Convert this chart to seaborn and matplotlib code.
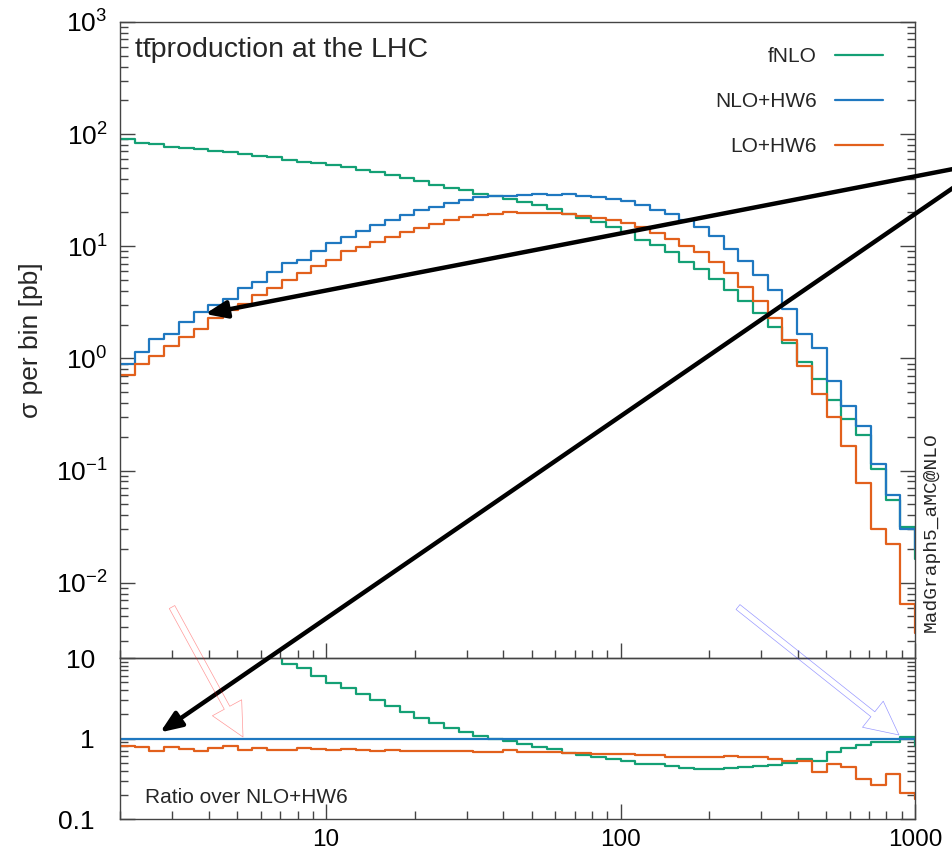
import numpy as np
import pandas as pd
import matplotlib
matplotlib.use("Agg")
import matplotlib.pyplot as plt
import seaborn as sns
from matplotlib.ticker import LogLocator, NullFormatter, FixedLocator, FixedFormatter

# binning: 20 bins per decade from ~2 up to 1000, plus the overflow bin past 1000
bin_edges = 10 ** (np.arange(6, 62) / 20)

# sigma per bin [pb]
fnlo = [89.7, 82.7, 81.4, 76.1, 75.0, 73.5, 70.5, 69.6, 66.8, 63.6,
        61.9, 59.0, 56.6, 55.0, 52.5, 50.4, 48.3, 46.4, 43.6, 40.8,
        38.0, 35.5, 33.2, 31.6, 29.5, 27.9, 26.4, 25.0, 23.4, 21.5,
        19.5, 17.9, 16.3, 14.9, 13.4, 11.3, 10.3, 8.81, 7.31, 6.25,
        5.12, 4.08, 3.28, 2.56, 1.92, 1.38, 0.921, 0.653, 0.424, 0.286,
        0.206, 0.104, 0.0548, 0.0312, 0.0163]
nlo_hw6 = [0.883, 1.13, 1.48, 1.65, 2.10, 2.57, 2.99, 3.39, 4.23, 4.81,
           5.91, 7.02, 7.57, 9.12, 10.6, 12.0, 13.6, 15.6, 17.1, 19.0,
           21.0, 22.5, 24.3, 26.0, 27.5, 28.3, 28.3, 28.9, 29.5, 28.9,
           29.5, 28.3, 27.5, 26.4, 25.2, 23.5, 21.2, 19.5, 17.0, 14.9,
           12.4, 9.44, 7.46, 5.56, 4.08, 2.76, 1.65, 1.24, 0.631, 0.374,
           0.248, 0.114, 0.0611, 0.0302, 0.0200]
lo_hw6 = [0.705, 0.883, 1.05, 1.30, 1.56, 1.82, 2.27, 2.70, 3.04, 3.68,
          4.23, 5.01, 5.83, 6.69, 7.57, 8.98, 9.90, 11.0, 12.2, 13.3,
          14.5, 15.9, 17.1, 18.2, 18.9, 19.4, 20.1, 19.8, 19.8, 19.8,
          19.4, 18.7, 17.9, 17.0, 16.1, 14.8, 13.1, 11.6, 10.1, 8.81,
          7.22, 5.76, 4.37, 3.28, 2.28, 1.46, 0.859, 0.480, 0.301, 0.165,
          0.0771, 0.0302, 0.0221, 0.00644, 0.00359]

series_names = ['fNLO', 'NLO+HW6', 'LO+HW6']
palette = {'fNLO': '#14a075', 'NLO+HW6': '#1f78c0', 'LO+HW6': '#e2601c'}

sns.set_theme(style='ticks')
plt.rcParams['font.family'] = ['Liberation Sans', 'DejaVu Sans']
plt.rcParams['mathtext.fontset'] = 'custom'
plt.rcParams['mathtext.rm'] = 'Liberation Sans'
plt.rcParams['mathtext.default'] = 'regular'

# long table, last value repeated so steps-post closes the final bin
ref = np.array(nlo_hw6 + [nlo_hw6[-1]])
rows = []
for name, vals in zip(series_names, [fnlo, nlo_hw6, lo_hw6]):
    ext = np.array(vals + [vals[-1]])
    rows.append(pd.DataFrame({'x': bin_edges, 'sigma': ext, 'ratio': ext / ref, 'sample': name}))
df = pd.concat(rows, ignore_index=True)

fig = plt.figure(figsize=(9.53, 8.58), dpi=100)
ax_top = fig.add_axes([0.1259, 0.2331, 0.8342, 0.7413])
ax_rat = fig.add_axes([0.1259, 0.04545, 0.8342, 0.18765])
for ax in (ax_top, ax_rat):
    ax.set_facecolor('none')

sns.lineplot(data=df, x='x', y='sigma', hue='sample', hue_order=series_names, palette=palette,
             drawstyle='steps-post', lw=1.6, estimator=None, sort=False, ax=ax_top)
sns.lineplot(data=df, x='x', y='ratio', hue='sample', hue_order=series_names, palette=palette,
             drawstyle='steps-post', lw=1.6, estimator=None, sort=False, legend=False, ax=ax_rat)

xmin, xmax = bin_edges[0], 1000
for ax in (ax_top, ax_rat):
    ax.set_xscale('log')
    ax.set_yscale('log')
    ax.set_xlim(xmin, xmax)
    ax.set_xlabel('')
    ax.set_ylabel('')
    for sp in ax.spines.values():
        sp.set_visible(True)
        sp.set_color('#444444')
        sp.set_linewidth(1.0)
    ax.xaxis.set_major_locator(FixedLocator([10, 100, 1000]))
    ax.xaxis.set_minor_locator(LogLocator(base=10, subs=np.arange(2, 10), numticks=20))
    ax.xaxis.set_minor_formatter(NullFormatter())
    ax.tick_params(axis='both', which='both', direction='in', color='#444444', width=1.0,
                   labelsize=19, labelcolor='black')
    ax.tick_params(axis='both', which='major', length=11)
    ax.tick_params(axis='both', which='minor', length=6)
    ax.tick_params(axis='y', which='both', left=True, right=True)
    ax.tick_params(axis='x', which='both', bottom=True, top=False)

# upper panel
ax_top.set_ylim(2.13e-3, 1e3)
ax_top.yaxis.set_major_locator(LogLocator(base=10, numticks=12))
ax_top.yaxis.set_minor_locator(LogLocator(base=10, subs=np.arange(2, 10), numticks=12))
ax_top.yaxis.set_minor_formatter(NullFormatter())
ax_top.tick_params(axis='x', labelbottom=False)
ax_top.tick_params(axis='y', pad=9)
ax_top.set_ylabel('σ per bin [pb]', fontsize=19)
ax_top.yaxis.set_label_coords(-0.097, 0.5)

ax_top.text(0.019, 0.945, 'tt\u0304production at the LHC', transform=ax_top.transAxes,
            fontsize=20.5, ha='left', va='baseline')

leg = ax_top.get_legend()
handles = leg.legend_handles
ax_top.legend(handles, series_names, loc='upper right', bbox_to_anchor=(0.96, 0.96),
              frameon=False, markerfirst=False, fontsize=15, handlelength=2.3,
              handletextpad=0.9, labelspacing=1.25, borderpad=0, borderaxespad=0)

# ratio panel
ax_rat.set_ylim(0.1, 10)
ax_rat.yaxis.set_major_locator(FixedLocator([0.1, 1, 10]))
ax_rat.yaxis.set_major_formatter(FixedFormatter(['0.1', '1', '10']))
ax_rat.yaxis.set_minor_locator(LogLocator(base=10, subs=np.arange(2, 10), numticks=12))
ax_rat.yaxis.set_minor_formatter(NullFormatter())
ax_rat.xaxis.set_major_formatter(FixedFormatter(['10', '100', '1000']))
ax_rat.tick_params(axis='y', pad=18)
ax_rat.tick_params(axis='x', pad=7, labelsize=17.5)
ax_rat.text(0.031, 0.10, 'Ratio over NLO+HW6', transform=ax_rat.transAxes,
            fontsize=15, ha='left', va='baseline')

fig.text(0.977, 0.38, 'MadGraph5_aMC@NLO', rotation=90, ha='center', va='center',
         family='Liberation Mono', fontsize=14)

# thick black arrows coming in from the right edge
big = dict(arrowstyle='-|>,head_length=0.65,head_width=0.26', mutation_scale=20,
           lw=3.2, color='black', shrinkA=0, shrinkB=0)
ax_top.annotate('', xy=(3.88, 2.49), xycoords='data', xytext=(1.0, 0.803),
                textcoords='figure fraction', arrowprops=big, annotation_clip=False)
ax_rat.annotate('', xy=(2.73, 1.19), xycoords='data', xytext=(1.0, 0.781),
                textcoords='figure fraction', arrowprops=big, annotation_clip=False)

# faint outline arrows
for col, tail, tip in [('red', (0.1805, 0.2925), (0.255, 0.141)),
                       ('blue', (0.7744, 0.2925), (0.9433, 0.1434))]:
    ax_rat.annotate('', xy=tip, xycoords='figure fraction', xytext=tail,
                    textcoords='figure fraction', annotation_clip=False,
                    arrowprops=dict(arrowstyle='simple,head_length=0.8,head_width=0.8,tail_width=0.15',
                                    mutation_scale=30, fc='none', ec=col, lw=0.5, alpha=0.4,
                                    shrinkA=0, shrinkB=0))

fig.savefig('out.png', dpi=100, facecolor='white')
